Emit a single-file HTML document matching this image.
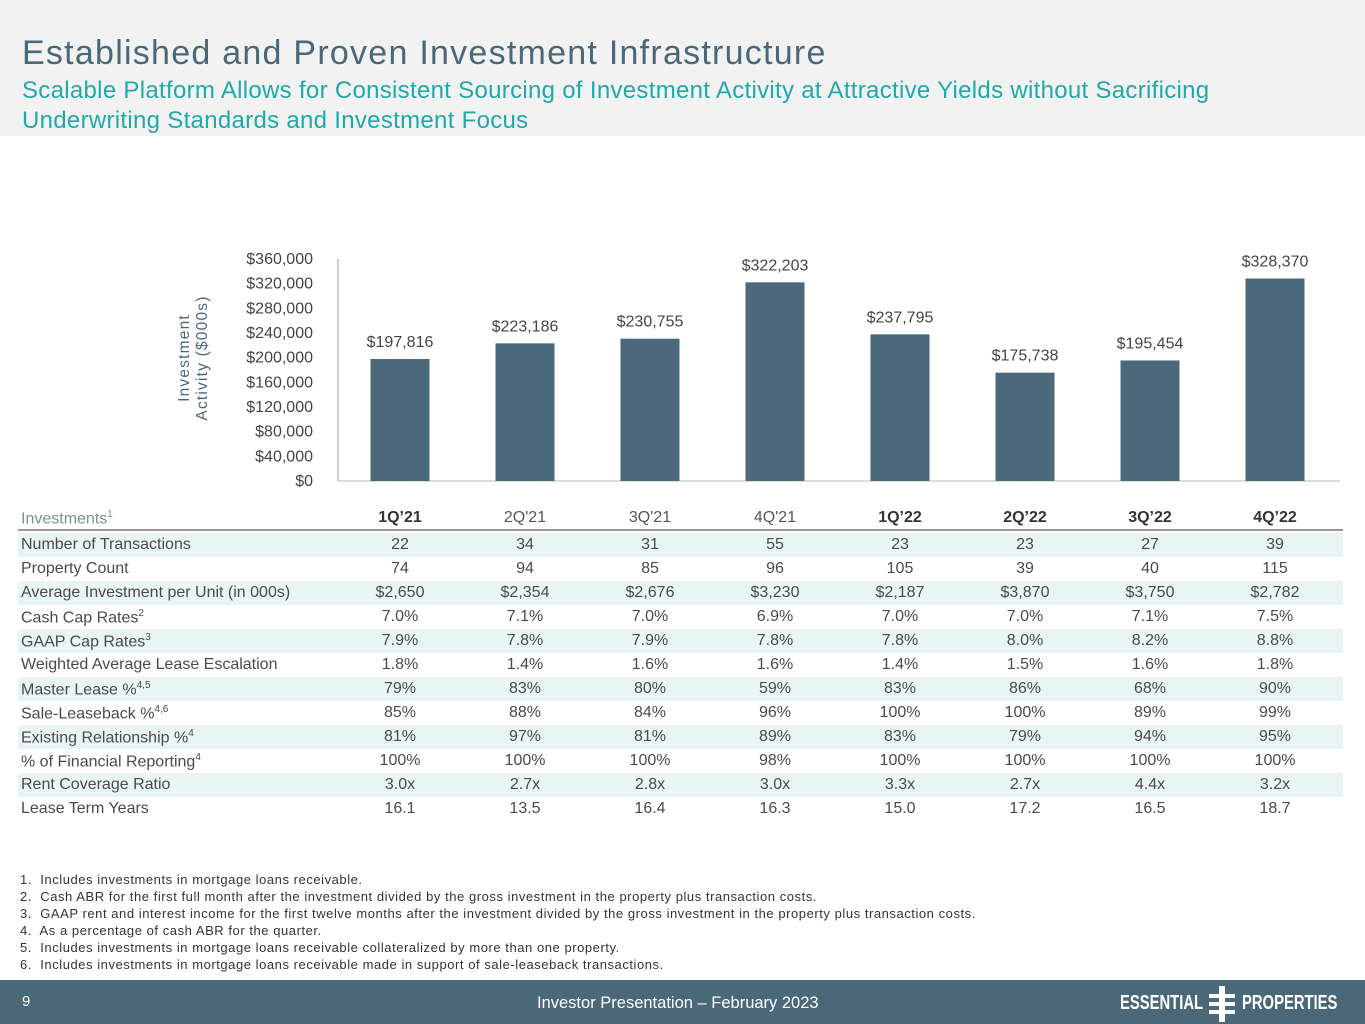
<!DOCTYPE html>
<html><head><meta charset="utf-8"><style>
body{margin:0;width:1365px;height:1024px;position:relative;background:#fff;font-family:"Liberation Sans",sans-serif;overflow:hidden}
.hdr{position:absolute;left:0;top:0;width:1365px;height:136px;background:#f2f2f2}
.t1{position:absolute;left:22px;top:34px;font-size:34px;color:#4a6878;letter-spacing:1.25px;white-space:nowrap}
.t2{position:absolute;left:22px;top:76px;font-size:24px;color:#1fa9a9;line-height:30px;letter-spacing:0.3px;white-space:nowrap}
.tbl{position:absolute;left:18px;top:506px;width:1325px}
.row{position:absolute;left:0;width:1325px;height:24px;font-size:16px;color:#4a4a4a}
.row.s{background:#e9f5f5}
.row span{position:absolute;top:3px;white-space:nowrap}
.row .c{transform:translateX(-50%)}
.fn{position:absolute;left:20px;top:871px;font-size:13px;color:#333;line-height:17px;letter-spacing:0.55px;white-space:nowrap}
.ftr{position:absolute;left:0;top:980px;width:1365px;height:44px;background:#4a6878;color:#fff}
</style></head><body>
<div class="hdr">
<div class="t1">Established and Proven Investment Infrastructure</div>
<div class="t2">Scalable Platform Allows for Consistent Sourcing of Investment Activity at Attractive Yields without Sacrificing<br>Underwriting Standards and Investment Focus</div>
</div>
<svg id="chart" style="position:absolute;left:0;top:0" width="1365" height="500"></svg>
<div class="tbl" id="tbl"></div>
<div class="fn">1.&nbsp; Includes investments in mortgage loans receivable.<br>2.&nbsp; Cash ABR for the first full month after the investment divided by the gross investment in the property plus transaction costs.<br>3.&nbsp; GAAP rent and interest income for the first twelve months after the investment divided by the gross investment in the property plus transaction costs.<br>4.&nbsp; As a percentage of cash ABR for the quarter.<br>5.&nbsp; Includes investments in mortgage loans receivable collateralized by more than one property.<br>6.&nbsp; Includes investments in mortgage loans receivable made in support of sale-leaseback transactions.</div>
<div class="ftr">
<span style="position:absolute;left:22px;top:13px;font-size:15px">9</span>
<span style="position:absolute;left:537px;top:14px;font-size:16.5px;white-space:nowrap">Investor Presentation – February 2023</span>
<span style="position:absolute;left:1120px;top:12px;font-size:20px;font-weight:bold;white-space:nowrap;transform:scaleX(0.74);transform-origin:left">ESSENTIAL</span>
<span style="position:absolute;left:1242px;top:12px;font-size:20px;font-weight:bold;white-space:nowrap;transform:scaleX(0.74);transform-origin:left">PROPERTIES</span>
<svg style="position:absolute;left:1207px;top:6px" width="30" height="36"><rect x="12" y="0" width="6" height="36" fill="#fff"/><rect x="2" y="8" width="26" height="4" fill="#fff"/><rect x="2" y="16" width="26" height="4" fill="#fff"/><rect x="2" y="24" width="26" height="4" fill="#fff"/></svg>
</div>
<script>
const categories=["1Q'21","2Q'21","3Q'21","4Q'21","1Q'22","2Q'22","3Q'22","4Q'22"];
const values=[197816,223186,230755,322203,237795,175738,195454,328370];
const ticks=[0,40000,80000,120000,160000,200000,240000,280000,320000,360000];
const NS="http://www.w3.org/2000/svg";
const svg=document.getElementById('chart');
const y=v=>481-v/360000*222;
const x=i=>400+i*125;
function mk(t,a){const e=document.createElementNS(NS,t);for(const k in a)e.setAttribute(k,a[k]);svg.appendChild(e);return e;}
const fmt=v=>'$'+v.toLocaleString('en-US');
let ax=mk('line',{x1:338,x2:338,y1:259,y2:481,stroke:'#999'});

let bx=mk('line',{x1:338,x2:1340,y1:481,y2:481,stroke:'#bbb'});

ticks.forEach(t=>{const e=mk('text',{x:313,y:y(t)+5,'text-anchor':'end','font-size':16,fill:'#444','font-family':'Liberation Sans'});e.textContent=fmt(t);
});
values.forEach((v,i)=>{const r=mk('rect',{x:x(i)-29.5,y:y(v),width:59,height:481-y(v),fill:'#4a6a7b'});

const t=mk('text',{x:x(i),y:y(v)-12,'text-anchor':'middle','font-size':16,fill:'#444','font-family':'Liberation Sans'});t.textContent=fmt(v);
});
const yt=mk('text',{transform:'translate(197,358) rotate(-90)','text-anchor':'middle','font-size':15.5,fill:'#4a6878','font-family':'Liberation Sans','letter-spacing':'1.2'});

yt.innerHTML='<tspan x="0" dy="-8">Investment</tspan><tspan x="0" dy="18">Activity ($000s)</tspan>';

const headers=["1Q’21","2Q'21","3Q'21","4Q'21","1Q’22","2Q’22","3Q’22","4Q’22"];
const bold=[1,0,0,0,1,1,1,1];
const rows=[
["Number of Transactions",["22","34","31","55","23","23","27","39"]],
["Property Count",["74","94","85","96","105","39","40","115"]],
["Average Investment per Unit (in 000s)",["$2,650","$2,354","$2,676","$3,230","$2,187","$3,870","$3,750","$2,782"]],
["Cash Cap Rates<sup>2</sup>",["7.0%","7.1%","7.0%","6.9%","7.0%","7.0%","7.1%","7.5%"]],
["GAAP Cap Rates<sup>3</sup>",["7.9%","7.8%","7.9%","7.8%","7.8%","8.0%","8.2%","8.8%"]],
["Weighted Average Lease Escalation",["1.8%","1.4%","1.6%","1.6%","1.4%","1.5%","1.6%","1.8%"]],
["Master Lease %<sup>4,5</sup>",["79%","83%","80%","59%","83%","86%","68%","90%"]],
["Sale-Leaseback %<sup>4,6</sup>",["85%","88%","84%","96%","100%","100%","89%","99%"]],
["Existing Relationship %<sup>4</sup>",["81%","97%","81%","89%","83%","79%","94%","95%"]],
["% of Financial Reporting<sup>4</sup>",["100%","100%","100%","98%","100%","100%","100%","100%"]],
["Rent Coverage Ratio",["3.0x","2.7x","2.8x","3.0x","3.3x","2.7x","4.4x","3.2x"]],
["Lease Term Years",["16.1","13.5","16.4","16.3","15.0","17.2","16.5","18.7"]]];
const tbl=document.getElementById('tbl');
let h='<div class="row" style="top:0;border-bottom:2px solid #999;height:23px"><span style="left:3px;color:#7a8f99">Investments<sup style="font-size:10px">1</sup></span>';
headers.forEach((c,i)=>{h+=`<span class="c" style="left:${x(i)-18}px;${bold[i]?'font-weight:bold;color:#333':'color:#555'}">${c}</span>`});
h+='</div>';
rows.forEach((r,j)=>{h+=`<div class="row${j%2==0?' s':''}" style="top:${27+j*24}px"><span style="left:3px">${r[0].replace(/<sup>/g,'<sup style="font-size:10px">')}</span>`;
r[1].forEach((v,i)=>{h+=`<span class="c" style="left:${x(i)-18}px">${v}</span>`});h+='</div>';});
tbl.innerHTML=h;
</script>
</body></html>
